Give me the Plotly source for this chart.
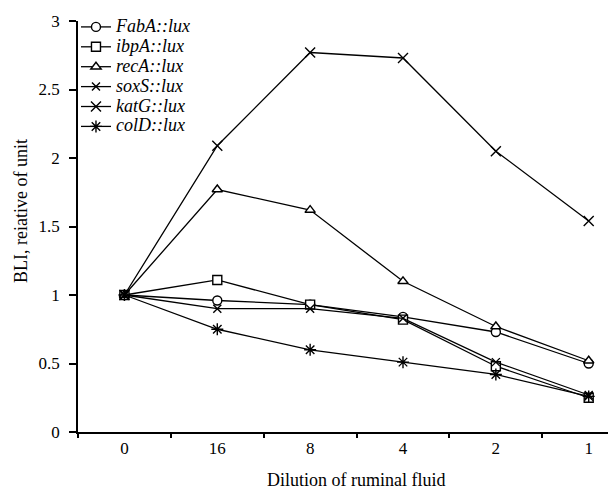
import plotly.graph_objects as go

categories = ["0", "16", "8", "4", "2", "1"]
fabA = [1.0, 0.96, 0.93, 0.84, 0.73, 0.50]
ibpA = [1.0, 1.11, 0.93, 0.82, 0.48, 0.25]
recA = [1.0, 1.77, 1.62, 1.10, 0.77, 0.52]
soxS = [1.0, 0.90, 0.90, 0.83, 0.51, 0.27]
katG = [1.0, 2.09, 2.77, 2.73, 2.05, 1.54]
colD = [1.0, 0.75, 0.60, 0.51, 0.42, 0.26]
y_ticks = [0, 0.5, 1, 1.5, 2, 2.5, 3]
y_tick_text = ["0", "0.5", "1", "1.5", "2", "2.5", "3"]

series = [
    ("FabA::lux", fabA, "circle", 9, "white"),
    ("ibpA::lux", ibpA, "square", 9, "white"),
    ("recA::lux", recA, "triangle-up", 9, "white"),
    ("soxS::lux", soxS, "x-thin", 8, "black"),
    ("katG::lux", katG, "x-thin", 10, "black"),
    ("colD::lux", colD, "asterisk", 10, "black"),
]

fig = go.Figure()
for name, vals, sym, size, fill in series:
    fig.add_trace(go.Scatter(
        x=categories, y=vals,
        name="<span style='font-size:18px'>" + name + "</span>",
        mode="lines+markers",
        line=dict(color="black", width=1.3),
        marker=dict(symbol=sym, size=size, color=fill,
                    line=dict(color="black", width=1.4)),
        cliponaxis=False,
    ))

font_family = "Liberation Serif"
fig.update_layout(
    width=616, height=489,
    margin=dict(l=70, r=0, t=13, b=65),
    plot_bgcolor="white", paper_bgcolor="white",
    font=dict(family=font_family, size=17, color="black"),
    showlegend=True,
    legend=dict(x=-0.0037, y=1.022, xanchor="left", yanchor="top",
                font=dict(family=font_family, size=13, color="black", style="italic"),
                bgcolor="rgba(0,0,0,0)", tracegroupgap=0, itemwidth=30),
    xaxis=dict(type="category", range=[-0.5, 5.38], tickson="boundaries",
               showline=True, linecolor="black", linewidth=1.5,
               ticks="outside", ticklen=4, tickwidth=1.5, tickcolor="black",
               showgrid=False, zeroline=False,
               tickfont=dict(family=font_family, size=17, color="black")),
    yaxis=dict(range=[0, 3], tickmode="array", tickvals=y_ticks, ticktext=y_tick_text,
               showline=True, linecolor="black", linewidth=1.5,
               ticks="outside", ticklen=7, tickwidth=1.5, tickcolor="black",
               ticklabelstandoff=6,
               showgrid=False, zeroline=False,
               tickfont=dict(family=font_family, size=17, color="black")),
    annotations=[
        dict(text="Dilution of ruminal fluid", xref="paper", yref="paper",
             x=(348 - 70) / 546, y=0, yshift=-48, showarrow=False,
             xanchor="center", yanchor="middle",
             font=dict(family=font_family, size=18, color="black")),
        dict(text="BLI, reiative of unit", xref="paper", yref="paper",
             x=0, xshift=-57, y=(424 - 203) / 411, showarrow=False, textangle=-90,
             xanchor="center", yanchor="middle",
             font=dict(family=font_family, size=18, color="black")),
    ],
)

fig.write_html("out.html")
